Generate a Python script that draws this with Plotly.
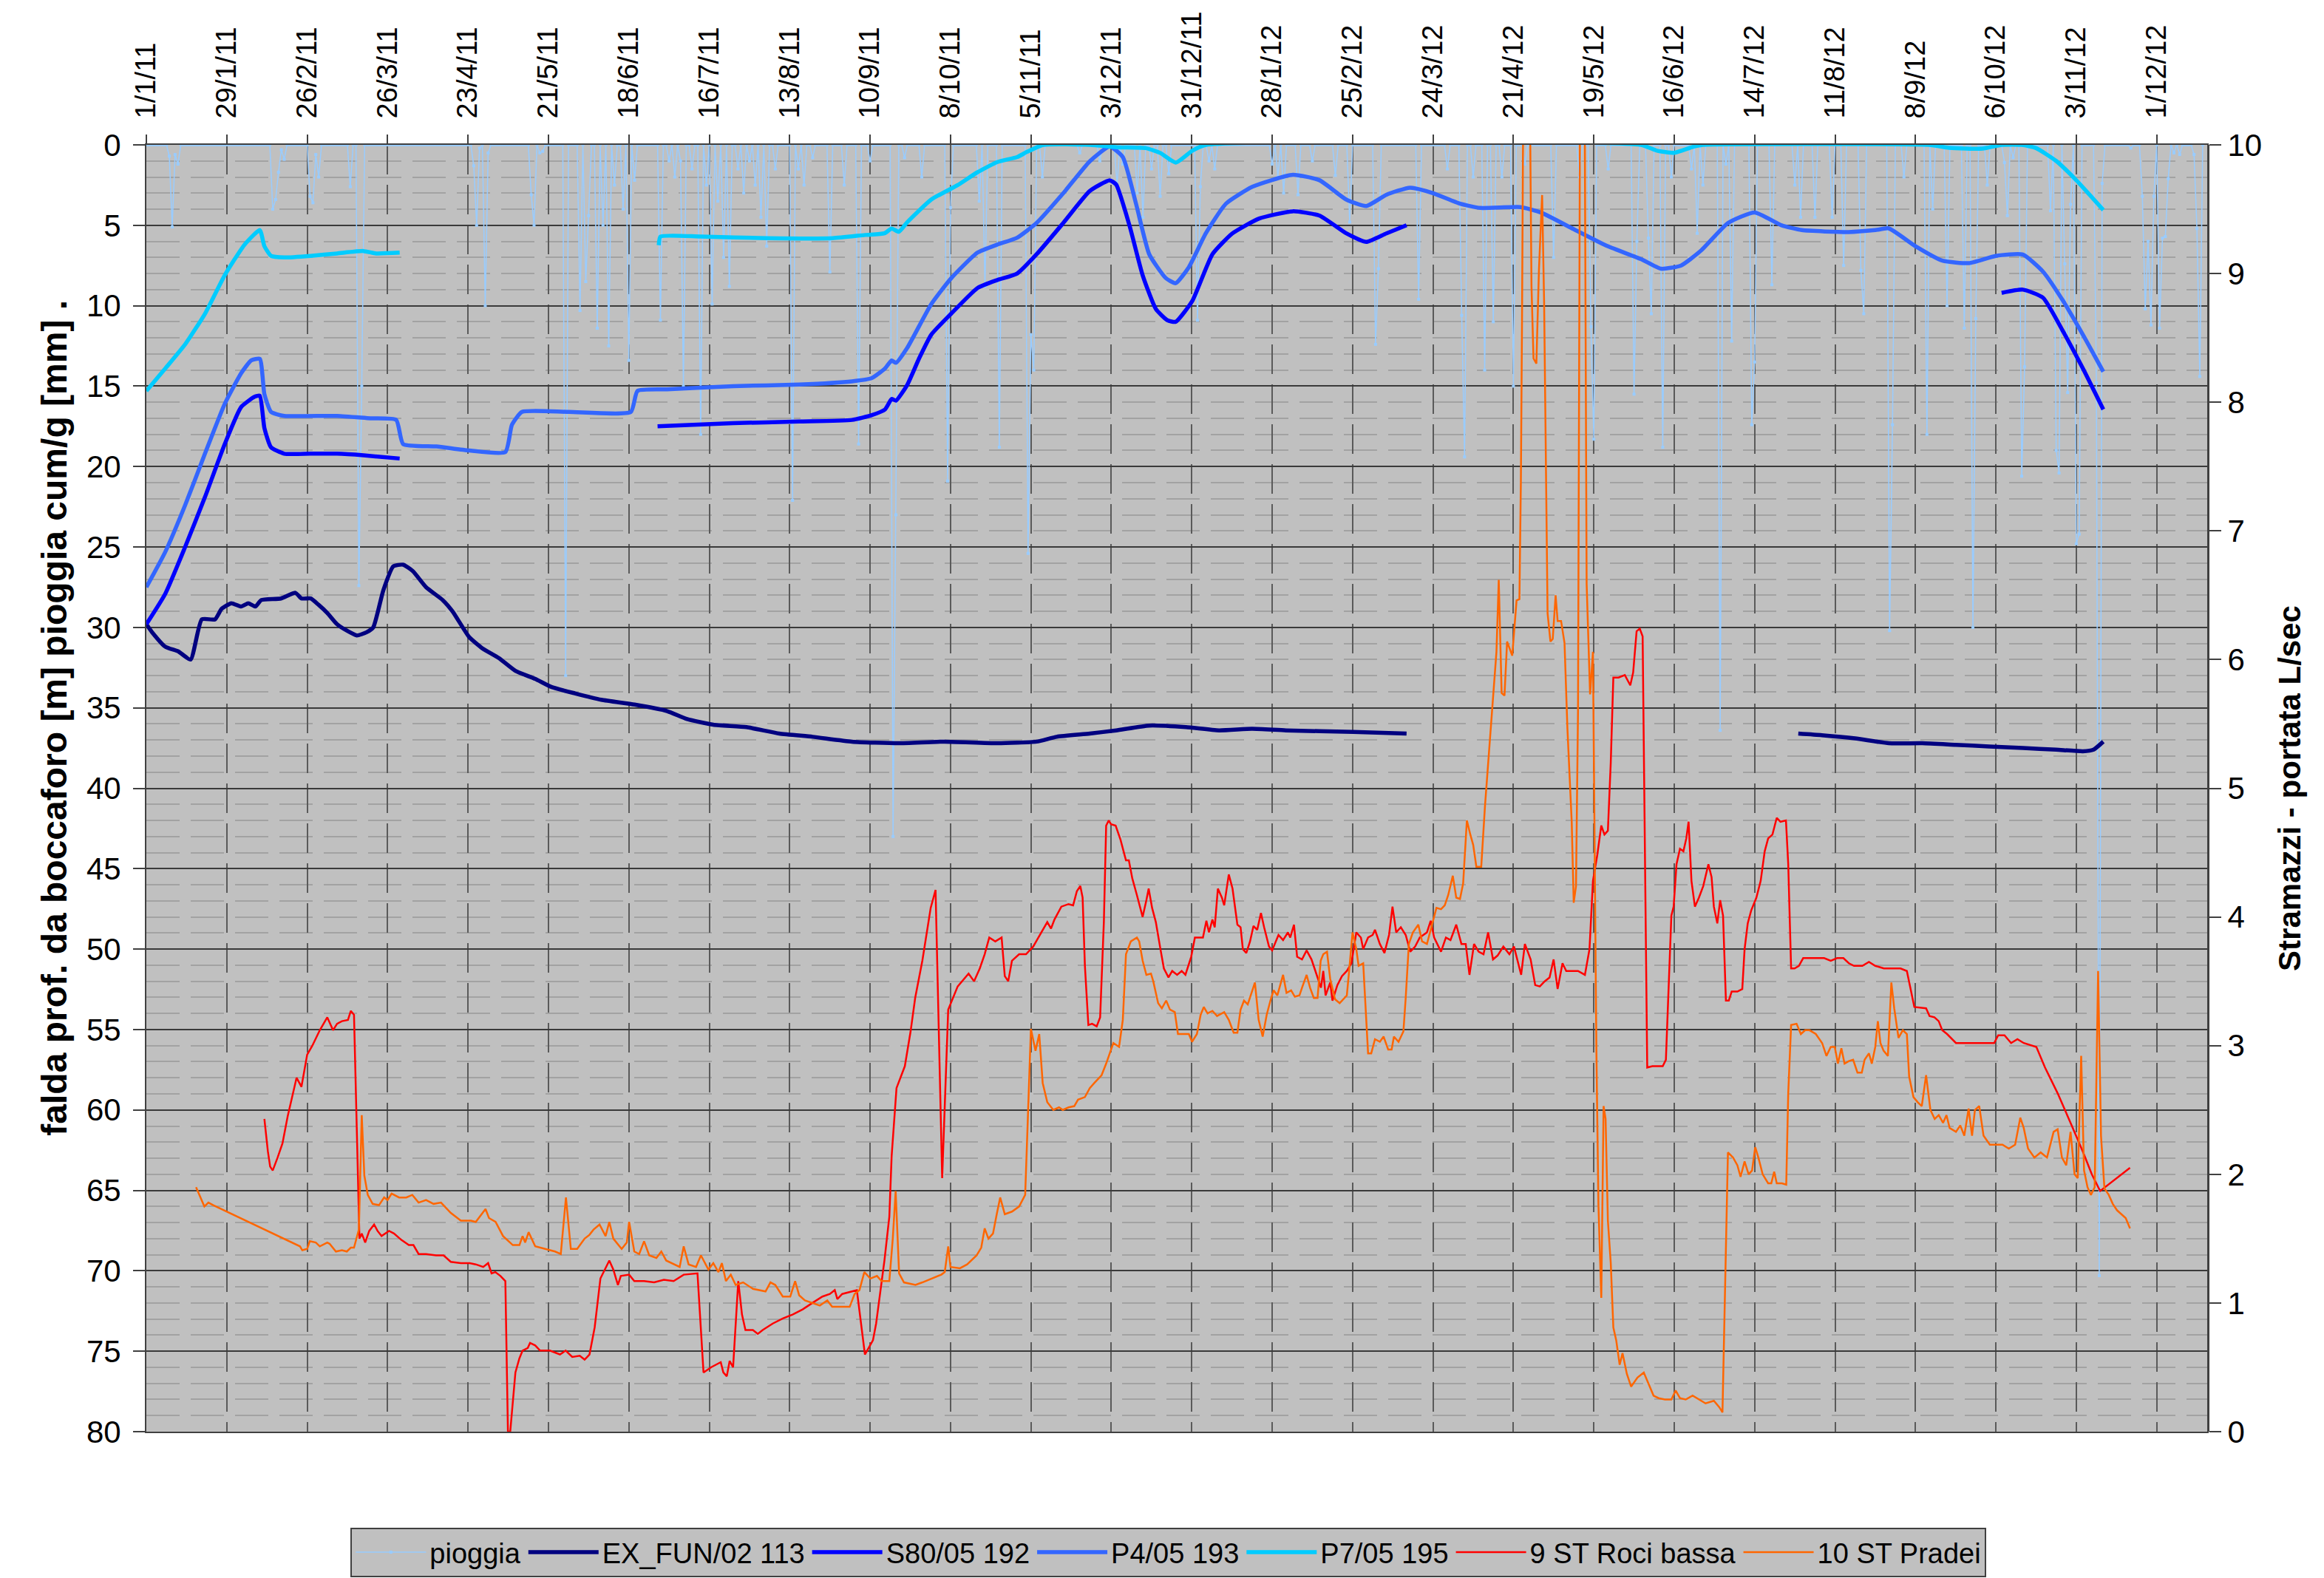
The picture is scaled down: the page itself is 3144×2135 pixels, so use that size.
import pandas as pd
import plotly.graph_objects as go

BASE = pd.Timestamp("2011-01-01")

# ---------------- data (day offset from 1/1/11, value) ----------------
# rain events (mm/day) ; days not listed = 0
pioggia_events = [
    (8, 0.7), (9, 5.1), (10, 0.6), (11, 1.2),
    (44, 4.0), (45, 3.4), (46, 1.7), (47, 0.3), (48, 0.9),
    (57, 3.2), (58, 3.6), (59, 0.6), (60, 2.0),
    (71, 2.6), (74, 27.4), (75, 15.0),
    (114, 1.3), (115, 5.0), (116, 0.2), (118, 10.0), (119, 0.5),
    (134, 3.1), (135, 5.0), (137, 0.5), (138, 0.4),
    (146, 33.0), (151, 10.3), (153, 8.5), (154, 4.4), (157, 11.4), (159, 5.0),
    (161, 12.5), (163, 2.5), (166, 4.0), (168, 13.4), (170, 2.2),
    (179, 10.9), (182, 1.0), (184, 2.0), (186, 1.0), (187, 15.0), (190, 1.5),
    (193, 18.0), (195, 2.5), (197, 9.9), (199, 3.5), (201, 7.0), (203, 8.8),
    (206, 1.5), (208, 3.0), (210, 1.0), (212, 2.5), (214, 4.5), (216, 6.3), (219, 1.5),
    (225, 22.1), (227, 1.5), (229, 2.5), (232, 0.8), (238, 7.9), (243, 2.5),
    (248, 18.6), (252, 1.0), (260, 43.0), (261, 23.0), (264, 0.8),
    (270, 2.0), (279, 20.9), (280, 3.9), (290, 3.5), (292, 8.8), (297, 18.8),
    (307, 25.4), (308, 11.8), (309, 14.0), (312, 2.0),
    (325, 0.5), (332, 1.0), (338, 2.5), (340, 1.2), (345, 3.0), (347, 4.5),
    (350, 1.5), (353, 3.2), (356, 1.8),
    (366, 10.9), (367, 2.6), (370, 1.0), (372, 1.5), (392, 1.2), (394, 2.0),
    (396, 3.0), (401, 3.1), (406, 1.0), (414, 1.9), (419, 4.8), (428, 12.4),
    (429, 7.7), (443, 9.6), (453, 1.5), (458, 10.6), (459, 19.4), (462, 2.0),
    (466, 14.0), (469, 11.0), (472, 2.0), (476, 15.0), (480, 1.2), (490, 7.0),
    (499, 2.0), (503, 11.3), (504, 18.3), (509, 1.5), (518, 15.5), (519, 6.0),
    (523, 5.8), (524, 10.5), (528, 18.8), (531, 2.0), (538, 1.5), (540, 5.5),
    (542, 2.5), (548, 36.4), (550, 1.2), (552, 12.2), (559, 17.4), (560, 13.5),
    (566, 8.7), (574, 2.5), (576, 4.5), (581, 4.5), (587, 4.5), (591, 7.5),
    (597, 7.8), (598, 10.5), (607, 30.2), (608, 17.4), (612, 2.0), (620, 18.0),
    (622, 4.0), (627, 10.0), (633, 11.4), (636, 30.0), (637, 10.8), (641, 2.5),
    (647, 1.1), (648, 4.4), (650, 0.8), (653, 20.6), (654, 13.8), (663, 4.1),
    (665, 19.0), (666, 20.4), (668, 7.4), (669, 15.4), (670, 3.7), (672, 24.8),
    (673, 24.2), (679, 14.8), (680, 70.3), (681, 2.4),
    (691, 0.2), (695, 3.2), (696, 10.2), (697, 6.0), (698, 11.2), (699, 3.2),
    (701, 11.4), (702, 5.8), (703, 5.7), (704, 2.1), (706, 0.5), (708, 0.6),
    (713, 0.6), (714, 5.2), (715, 14.4),
]
pioggia_last_day = 716

ex_fun_seg1 = [
    (0, 29.8), (2, 30.3), (6.6, 31.2), (11.2, 31.5), (15.4, 32.0), (19.3, 29.5),
    (23.9, 29.5), (26.2, 28.85), (29.6, 28.5), (33, 28.7), (35.5, 28.5), (38, 28.7),
    (40, 28.3), (46.9, 28.2), (51.9, 27.85), (54, 28.2), (57.2, 28.2), (60, 28.6),
    (63, 29.1), (66.4, 29.8), (69.8, 30.2), (73.3, 30.5), (76.7, 30.3), (79, 30.0),
    (82.5, 27.7), (86, 26.2), (89.4, 26.1), (92.8, 26.5), (97.4, 27.5), (103.2, 28.3),
    (106.6, 29.0), (112.4, 30.6), (117, 31.3), (122.7, 31.9), (128.5, 32.7),
    (135.4, 33.2), (141, 33.7), (149.2, 34.1), (158.4, 34.5), (170, 34.8),
    (181.3, 35.2), (188.3, 35.7), (197.4, 36.05), (209, 36.2), (220.4, 36.6),
    (232, 36.8), (245.7, 37.1), (261.8, 37.2), (277.9, 37.1), (296.3, 37.2),
    (310, 37.1), (317, 36.8), (328.5, 36.6), (337.7, 36.4), (349.2, 36.1),
    (362, 36.2), (373.5, 36.4), (385, 36.3), (396.8, 36.4), (420.2, 36.5), (438.8, 36.6),
]
ex_fun_seg2 = [
    (575.2, 36.6), (583.4, 36.7), (595, 36.9), (606.7, 37.2), (618.4, 37.2),
    (630, 37.3), (641.7, 37.4), (653.4, 37.5), (665, 37.6), (674.3, 37.7),
    (678, 37.6), (681.4, 37.1),
]

s80_seg1 = [
    (0, 29.8), (6.6, 27.9), (13.5, 25.0), (20.4, 21.9), (27.3, 18.6), (33, 16.3),
    (37.7, 15.66), (39.5, 15.6), (41.1, 17.6), (43.4, 18.8), (48, 19.2), (57, 19.2),
    (66.4, 19.2), (75.6, 19.3), (88.2, 19.5),
]
s80_seg2 = [
    (178, 17.5), (204.3, 17.3), (227.3, 17.2), (245.7, 17.1), (252.6, 16.8),
    (257.2, 16.45), (259.5, 15.8), (261, 15.9), (265, 14.9), (269, 13.3),
    (273.3, 11.8), (280.2, 10.5), (289.4, 8.9), (296.3, 8.4), (303.2, 8.0),
    (310, 6.8), (319.3, 4.85), (328.5, 2.87), (335.4, 2.2), (337.7, 2.47),
    (342.3, 5.0), (346.9, 8.1), (351.5, 10.2), (355.5, 10.9), (358.4, 11.0),
    (364.2, 9.7), (371.2, 6.8), (378.2, 5.5), (387.5, 4.58), (399.2, 4.13),
    (408.5, 4.4), (417.8, 5.5), (424.8, 6.03), (431.8, 5.5), (438.8, 5.0),
]
s80_seg3 = [
    (646, 9.2), (653.4, 9.0), (660.4, 9.5), (667.4, 11.6), (674.3, 13.9), (681.4, 16.45),
]

p4_series = [
    (0, 27.5), (6.6, 25.3), (13.5, 22.4), (20.4, 19.2), (27.3, 16.1), (33, 14.2),
    (36.5, 13.4), (39.5, 13.3), (41.1, 15.5), (43.4, 16.6), (48, 16.85), (66.4, 16.85),
    (78, 17.0), (87, 17.1), (89.4, 18.6), (101, 18.75), (112.4, 19.0), (125, 19.1),
    (127.3, 17.4), (130.8, 16.6), (147, 16.6), (168.7, 16.6), (171, 15.3),
    (181.3, 15.2), (204.3, 15.0), (227.3, 14.9), (245.7, 14.7), (252.6, 14.5),
    (257.2, 13.9), (259.5, 13.4), (261, 13.55), (265, 12.6), (273.3, 9.9),
    (280.2, 8.3), (289.4, 6.7), (296.3, 6.2), (303.2, 5.77), (310, 4.85),
    (319.3, 3.0), (328.5, 1.02), (335.4, 0.1), (340, 0.76), (344.6, 3.66),
    (349.2, 6.8), (354.9, 8.27), (358.4, 8.6), (363, 7.6), (368.9, 5.5),
    (375.9, 3.66), (385.2, 2.6), (399.2, 1.86), (408.5, 2.2), (417.8, 3.4),
    (424.8, 3.8), (431.8, 3.1), (440, 2.66), (448, 3.0), (457.5, 3.66),
    (464.5, 3.92), (478.5, 3.87), (485.5, 4.2), (497, 5.24), (508.8, 6.3),
    (520.4, 7.1), (527.4, 7.7), (534.4, 7.5), (541.4, 6.56), (550.8, 4.85),
    (560, 4.2), (569.4, 5.0), (576.4, 5.3), (592.7, 5.42), (602, 5.3),
    (606.7, 5.19), (616, 6.3), (625.4, 7.2), (634.7, 7.35), (644, 6.9),
    (653.4, 6.82), (660.4, 7.88), (667.4, 9.7), (674.3, 11.8), (681.4, 14.1),
]

p7_seg1 = [
    (0, 15.3), (6.6, 13.9), (13.5, 12.4), (20.4, 10.5), (27.3, 8.1), (34.2, 6.2),
    (39.5, 5.3), (41.1, 6.3), (43.4, 6.9), (48, 7.0), (57.2, 6.9), (66.4, 6.75),
    (75.6, 6.6), (80, 6.75), (88.2, 6.7),
]
p7_seg2 = [
    (178.4, 6.24), (179, 5.7), (193, 5.7), (216, 5.8), (239, 5.8), (250.3, 5.6),
    (257, 5.5), (259.5, 5.2), (262, 5.4), (265, 4.8), (273.3, 3.4), (282.5, 2.5),
    (289.4, 1.7), (296.3, 1.07), (303.2, 0.76), (306.6, 0.44), (312.4, 0.0),
    (328.5, 0.0), (338, 0.15), (348, 0.2), (353, 0.5), (358.4, 1.1), (364.2, 0.36),
    (369, 0.0), (520.4, 0.0), (526, 0.36), (532, 0.49), (539, 0.1), (542, 0.0),
    (620.7, 0.0), (627.7, 0.18), (639.4, 0.23), (646, 0.0), (653, 0.0), (658, 0.2),
    (665, 1.0), (672, 2.2), (681.4, 4.05),
]

roci_bassa = [
    (41.1, 2.43), (42.3, 2.18), (43.1, 2.06), (44, 2.03), (45.7, 2.13), (47.4, 2.24),
    (49.2, 2.45), (50.9, 2.62), (52.3, 2.75), (54, 2.68), (56, 2.93), (57.8, 3.0),
    (60.4, 3.12), (63, 3.22), (65, 3.12), (66.4, 3.17), (68.1, 3.19), (70.2, 3.2),
    (71.2, 3.27), (72.3, 3.24), (74.2, 1.5), (75, 1.54), (76.2, 1.47), (77.6, 1.56),
    (79.3, 1.61), (80.5, 1.56), (81.9, 1.52), (84.5, 1.56), (86.2, 1.54), (88.8, 1.49),
    (91.4, 1.45), (93, 1.45), (94.8, 1.38), (97.4, 1.38), (100.9, 1.37), (103.5, 1.37),
    (106, 1.32), (109.5, 1.31), (112.6, 1.31), (114.7, 1.3), (117.3, 1.28), (119, 1.31),
    (120.2, 1.23), (121.5, 1.24), (123.3, 1.21), (125, 1.17), (125.9, 0.0), (126.7, 0.0),
    (128.5, 0.46), (129.9, 0.57), (131, 0.63), (132.8, 0.65), (133.6, 0.69), (135.4, 0.67),
    (137.1, 0.63), (140.5, 0.63), (144, 0.6), (146, 0.63), (148.3, 0.58), (150.9, 0.59),
    (152.6, 0.56), (154.3, 0.6), (156.1, 0.81), (158.1, 1.19), (159.5, 1.25), (161.2, 1.33),
    (162.6, 1.26), (164.2, 1.14), (165.2, 1.21), (168.1, 1.22), (169.9, 1.17), (173.3, 1.17),
    (176.8, 1.16), (180.2, 1.18), (183.6, 1.17), (187.1, 1.22), (191.9, 1.23), (194, 0.46),
    (196.6, 0.5), (198.3, 0.52), (200, 0.54), (200.9, 0.46), (202.1, 0.43), (203.1, 0.55),
    (204.3, 0.5), (206.1, 1.17), (207.4, 0.91), (208.6, 0.79), (211.2, 0.79), (212.9, 0.76),
    (214.6, 0.79), (218.1, 0.84), (221.6, 0.88), (225, 0.91), (228.5, 0.95), (231.9, 1.0),
    (235.4, 1.05), (238, 1.07), (239.7, 1.1), (240.6, 1.03), (242.3, 1.07), (245.7, 1.09),
    (247.4, 1.1), (250.2, 0.6), (253, 0.71), (254.1, 0.84), (255.4, 1.07), (257, 1.33),
    (258.7, 1.67), (259.5, 2.14), (261.2, 2.67), (262.8, 2.77), (264.1, 2.84), (266.1, 3.11),
    (267.7, 3.37), (270.2, 3.66), (271.8, 3.88), (273.1, 4.07), (274.8, 4.21), (277.1, 1.97),
    (279.2, 3.28), (282.5, 3.46), (286.3, 3.56), (288.2, 3.5), (290.2, 3.6), (291.9, 3.71),
    (293.5, 3.84), (295.6, 3.81), (297.8, 3.84), (298.9, 3.54), (300.1, 3.5), (301.4, 3.66),
    (303.9, 3.71), (306.3, 3.71), (308.8, 3.77), (311.2, 3.86), (313.7, 3.96), (315, 3.91),
    (316.2, 3.98), (318.6, 4.08), (321.1, 4.1), (322.7, 4.09), (324, 4.2), (325.2, 4.24),
    (326, 4.15), (326.8, 3.62), (328, 3.16), (329.3, 3.17), (330.9, 3.15), (332.1, 3.22),
    (333.4, 3.96), (334.2, 4.71), (335.1, 4.75), (335.9, 4.72), (337.5, 4.71), (339.2, 4.6),
    (341.1, 4.44), (342.1, 4.44), (343.3, 4.3), (344.9, 4.17), (346.9, 4.0), (348.2, 4.13),
    (349, 4.22), (350.2, 4.07), (351.5, 3.96), (353.1, 3.75), (354.3, 3.6), (355.9, 3.53),
    (357.2, 3.58), (358.9, 3.55), (360.5, 3.58), (361.8, 3.55), (363.8, 3.69), (365.1, 3.84),
    (367.9, 3.84), (369.1, 3.97), (370, 3.88), (371.2, 3.98), (372, 3.92), (373.1, 4.22),
    (374.5, 4.15), (375.3, 4.09), (376.9, 4.33), (378.2, 4.22), (379.9, 3.94), (381, 3.92),
    (381.8, 3.75), (383, 3.72), (384.3, 3.81), (385.5, 3.93), (386.8, 3.9), (388.1, 4.03),
    (389.2, 3.92), (390.9, 3.77), (392, 3.74), (394.2, 3.86), (395.8, 3.82), (397.5, 3.88),
    (398.3, 3.84), (399.6, 3.94), (400.7, 3.69), (402.4, 3.67), (404, 3.74), (405.7, 3.67),
    (407.3, 3.56), (409, 3.45), (409.8, 3.58), (410.6, 3.39), (412.2, 3.49), (413, 3.35),
    (414.7, 3.47), (416.3, 3.54), (418, 3.58), (419.6, 3.64), (421.3, 3.88), (422.9, 3.84),
    (423.7, 3.75), (425.4, 3.84), (427, 3.86), (427.8, 3.9), (429.5, 3.79), (431.1, 3.72),
    (432.7, 3.86), (433.9, 4.08), (435.2, 3.88), (436.8, 3.92), (438.5, 3.86), (440.1, 3.73),
    (441.8, 3.77), (443.4, 3.84), (445.9, 3.88), (447.2, 3.97), (448.4, 3.84), (450.8, 3.73),
    (452.5, 3.84), (454.1, 3.82), (456.1, 3.94), (457.9, 3.79), (459.4, 3.79), (460.7, 3.55),
    (462.3, 3.79), (463.9, 3.73), (465.6, 3.71), (467.2, 3.88), (468.9, 3.67), (470.5, 3.7),
    (472.5, 3.77), (474.6, 3.71), (476.2, 3.77), (478.7, 3.55), (480, 3.79), (482, 3.67),
    (483.6, 3.47), (485.2, 3.46), (486.9, 3.5), (488.6, 3.53), (490, 3.67), (491.4, 3.44),
    (493.1, 3.64), (494.4, 3.58), (496.8, 3.58), (498.5, 3.58), (500.9, 3.55), (502.5, 3.75),
    (503.7, 4.28), (505.2, 4.48), (506.6, 4.71), (507.7, 4.64), (508.9, 4.67), (509.9, 5.2),
    (510.8, 5.86), (512.6, 5.86), (514.8, 5.88), (516.7, 5.8), (517.7, 5.9), (518.9, 6.22),
    (520, 6.24), (521, 6.18), (522.6, 2.83), (524.4, 2.84), (526.6, 2.84), (528, 2.84),
    (529.1, 2.89), (531, 4.01), (531.8, 4.08), (532.8, 4.41), (534, 4.53), (535.2, 4.51),
    (536.2, 4.61), (537, 4.74), (538, 4.28), (539.2, 4.08), (540.6, 4.15), (542.1, 4.24),
    (543.9, 4.41), (545, 4.31), (545.8, 4.08), (547, 3.95), (548, 4.13), (549, 4.01),
    (550, 3.35), (551, 3.35), (552, 3.42), (554, 3.42), (555.7, 3.44), (556.5, 3.75),
    (557.6, 3.95), (558.8, 4.05), (560.6, 4.15), (562.1, 4.28), (563.5, 4.51), (564.7, 4.61),
    (566.2, 4.64), (567.7, 4.77), (569, 4.74), (570.9, 4.75), (571.7, 4.41), (572.7, 3.6),
    (573.9, 3.6), (575.4, 3.62), (576.9, 3.68), (581.3, 3.68), (584.2, 3.68), (586.5, 3.66),
    (588.7, 3.68), (590.9, 3.68), (592.8, 3.64), (594.6, 3.62), (597.5, 3.62), (599.8, 3.65),
    (602, 3.62), (605, 3.6), (607.9, 3.6), (610.8, 3.6), (613, 3.58), (614.5, 3.42),
    (615.6, 3.3), (619.7, 3.29), (620.9, 3.23), (622.6, 3.22), (624.1, 3.19), (625.3, 3.12),
    (627, 3.09), (630.1, 3.02), (632.3, 3.02), (636, 3.02), (640.4, 3.02), (643.4, 3.02),
    (644.8, 3.08), (647, 3.08), (649.3, 3.02), (651.5, 3.05), (653.7, 3.02), (658.1, 2.99),
    (661.1, 2.83), (665.5, 2.63), (670, 2.4), (674.4, 2.17), (677.4, 2.0), (680.3, 1.87),
    (690.7, 2.05),
]

pradei = [
    (17.3, 1.9), (18.1, 1.86), (20.2, 1.75), (21.6, 1.78), (23.3, 1.76), (53.5, 1.44),
    (54.3, 1.41), (56, 1.42), (56.9, 1.48), (59, 1.47), (60.4, 1.44), (63, 1.47),
    (63.8, 1.46), (66, 1.4), (68.1, 1.41), (69.8, 1.4), (71.2, 1.43), (72.3, 1.43),
    (73.3, 1.52), (74, 1.57), (75, 2.46), (75.9, 1.99), (77.1, 1.84), (78.8, 1.77),
    (81, 1.76), (82.8, 1.82), (84, 1.8), (85.4, 1.85), (88, 1.82), (90.5, 1.82),
    (92.6, 1.84), (94.8, 1.78), (97.4, 1.8), (100, 1.77), (102.6, 1.78), (106, 1.7),
    (109.5, 1.64), (113, 1.64), (114.7, 1.63), (116.4, 1.68), (118.1, 1.73), (119.3, 1.66),
    (121.6, 1.63), (124.2, 1.52), (127.6, 1.45), (129.9, 1.45), (131, 1.52), (131.9, 1.47),
    (133.1, 1.55), (135.4, 1.44), (138.8, 1.42), (142.3, 1.4), (144.3, 1.38), (146.1, 1.82),
    (147.8, 1.42), (150, 1.42), (152.6, 1.5), (154.3, 1.53), (155.7, 1.57), (157.8, 1.61),
    (159.9, 1.52), (161.2, 1.63), (162.6, 1.5), (165.5, 1.42), (167.3, 1.47), (168.1, 1.63),
    (169.9, 1.4), (171.6, 1.38), (173.3, 1.48), (175.1, 1.37), (177.6, 1.35), (179.3, 1.4),
    (181, 1.33), (183.6, 1.3), (185.7, 1.28), (187.1, 1.44), (188.8, 1.3), (191.4, 1.28),
    (193.1, 1.37), (195.7, 1.26), (197.4, 1.31), (199.2, 1.24), (200.4, 1.31), (201.8, 1.17),
    (203.5, 1.22), (205.2, 1.14), (207.8, 1.16), (211.2, 1.11), (215.6, 1.09), (217.3, 1.16),
    (219, 1.14), (221.6, 1.05), (224.2, 1.05), (225.9, 1.17), (227.3, 1.06), (229.3, 1.02),
    (232, 1.0), (234.5, 0.98), (237.1, 1.02), (238.8, 0.97), (242.3, 0.97), (244.9, 0.97),
    (246.6, 1.07), (248.3, 1.1), (250, 1.24), (252.1, 1.19), (254.4, 1.21), (256, 1.17),
    (258.7, 1.17), (259.9, 1.5), (260.9, 1.87), (262.1, 1.23), (263.8, 1.16), (267.8, 1.14),
    (270.2, 1.16), (273.5, 1.19), (276.8, 1.22), (278, 1.24), (279.2, 1.44), (280, 1.28),
    (283.3, 1.27), (285.8, 1.3), (289.1, 1.37), (290.7, 1.43), (291.9, 1.58), (293.2, 1.5),
    (294.8, 1.54), (296.1, 1.69), (297.3, 1.82), (298.9, 1.69), (301.4, 1.71), (303.9, 1.75),
    (306, 1.84), (306.8, 2.35), (308, 3.13), (309.6, 2.96), (310.9, 3.09), (312.1, 2.71),
    (313.7, 2.56), (315.8, 2.5), (317.8, 2.52), (319.1, 2.5), (321.1, 2.52), (323.1, 2.53),
    (324.4, 2.58), (326.8, 2.6), (328.5, 2.67), (330.1, 2.71), (332.6, 2.77), (334.2, 2.86),
    (335.4, 2.94), (336.7, 3.02), (338.7, 2.99), (340, 3.2), (341.1, 3.71), (342.8, 3.81),
    (344.9, 3.84), (345.7, 3.81), (346.9, 3.66), (348.2, 3.55), (349.8, 3.56), (350.6, 3.5),
    (352.3, 3.33), (353.6, 3.29), (355.1, 3.35), (356.4, 3.28), (358.1, 3.26), (359.2, 3.09),
    (361.3, 3.09), (363, 3.09), (364.1, 3.03), (365.8, 3.09), (367.1, 3.24), (368.2, 3.3),
    (369.5, 3.25), (371.2, 3.27), (372.8, 3.23), (373.6, 3.24), (375.3, 3.26), (376.9, 3.2),
    (378.6, 3.1), (379.9, 3.1), (381, 3.28), (382.2, 3.35), (383.5, 3.32), (386, 3.49),
    (387.3, 3.2), (388.7, 3.07), (390.1, 3.24), (391.4, 3.35), (392.5, 3.43), (393.8, 3.39),
    (395.8, 3.55), (397, 3.41), (398.6, 3.43), (399.9, 3.38), (401.5, 3.39), (402.4, 3.45),
    (404, 3.55), (405.2, 3.45), (406.5, 3.37), (407.8, 3.37), (408.9, 3.66), (409.8, 3.71),
    (411.1, 3.73), (412.2, 3.52), (413.9, 3.36), (415.5, 3.33), (418, 3.39), (418.8, 3.58),
    (420, 3.88), (421.3, 3.75), (422.1, 3.62), (423.7, 3.64), (425.4, 2.94), (426.5, 2.94),
    (427.8, 3.05), (429.5, 3.03), (430.8, 3.07), (432.4, 2.97), (433.6, 2.97), (434.4, 3.07),
    (436, 3.03), (437.7, 3.11), (438.5, 3.37), (439.6, 3.79), (441, 3.88), (442.9, 3.94),
    (444.2, 3.81), (445.9, 3.79), (447.5, 3.92), (449.2, 4.07), (450.8, 4.06), (452.1, 4.09),
    (453.3, 4.17), (454.9, 4.32), (456.1, 4.15), (457.4, 4.14), (458.5, 4.26), (459.8, 4.75),
    (461, 4.64), (462, 4.56), (463.1, 4.39), (464.8, 4.39), (466.1, 4.86), (467.2, 5.2),
    (467.8, 5.33), (469, 5.73), (470.1, 6.06), (470.9, 6.62), (471.9, 5.74), (472.9, 5.72),
    (473.8, 6.14), (475.6, 6.03), (476.3, 6.22), (477.1, 6.46), (478.1, 6.47), (478.6, 7.38),
    (479, 8.63), (479.6, 11.0), (480.5, 11.0), (481.5, 11.0), (482.3, 8.9), (483, 8.34),
    (484, 8.3), (484.9, 9.03), (486, 9.61), (486.7, 8.77), (487.9, 6.36), (488.9, 6.14),
    (489.7, 6.16), (490.7, 6.5), (491.4, 6.3), (492.6, 6.3), (493.8, 6.13), (494.8, 5.47),
    (496.3, 4.74), (497, 4.11), (497.8, 4.24), (498.5, 5.6), (499.3, 11.0), (500.0, 11.0),
    (500.7, 11.0), (501.5, 6.59), (502.7, 5.73), (503.7, 6.06), (504.4, 4.41), (504.9, 2.96),
    (505.6, 1.77), (506.6, 1.04), (507.4, 2.53), (508.1, 2.43), (508.9, 1.64), (509.9, 1.31),
    (510.8, 0.81), (511.8, 0.71), (513, 0.52), (514, 0.61), (515.5, 0.45), (517, 0.35),
    (519.2, 0.42), (521.4, 0.46), (522.9, 0.38), (524.8, 0.28), (526.6, 0.26), (528.8, 0.25),
    (531, 0.25), (532.5, 0.32), (534, 0.26), (536, 0.25), (538.4, 0.28), (540.6, 0.25),
    (542.9, 0.22), (545.8, 0.24), (547.7, 0.19), (548.8, 0.15), (550.7, 2.17), (552.5, 2.13),
    (554, 2.07), (555.1, 1.98), (556.5, 2.1), (557.9, 2.0), (559.1, 2.03), (560.2, 2.21),
    (561.3, 2.13), (562.8, 2.0), (564.7, 1.93), (565.8, 1.93), (566.8, 2.02), (567.7, 1.93),
    (569.5, 1.93), (571, 1.92), (571.7, 2.63), (572.7, 3.16), (574.6, 3.17), (576.1, 3.09),
    (577.6, 3.12), (579.1, 3.12), (581.3, 3.09), (583.5, 3.02), (585, 2.92), (586.5, 2.99),
    (587.9, 2.99), (589, 2.86), (590.2, 2.98), (591.3, 2.86), (592.8, 2.88), (594.3, 2.89),
    (595.8, 2.79), (597.3, 2.79), (598.3, 2.89), (599.8, 2.94), (600.8, 2.86), (602, 2.99),
    (602.9, 3.19), (603.8, 3.02), (604.9, 2.96), (606.4, 2.92), (607.6, 3.49), (608.6, 3.29),
    (610.1, 3.06), (611.6, 3.12), (613, 3.09), (613.8, 2.76), (615.3, 2.6), (616.8, 2.56),
    (618.2, 2.53), (619.7, 2.77), (621.2, 2.5), (622.7, 2.43), (624.1, 2.46), (625.6, 2.4),
    (626.8, 2.46), (627.9, 2.36), (630.1, 2.33), (631.6, 2.38), (633, 2.3), (634.5, 2.51),
    (635.7, 2.3), (636.7, 2.5), (638.2, 2.53), (639.7, 2.3), (641.9, 2.23), (644.1, 2.23),
    (646.3, 2.23), (648.5, 2.2), (650.7, 2.23), (652.5, 2.44), (653.7, 2.36), (655.2, 2.2),
    (657.4, 2.13), (659.6, 2.17), (661.8, 2.13), (664.1, 2.33), (665.5, 2.35), (667, 2.13),
    (668.5, 2.07), (670, 2.33), (671.4, 2.0), (672.5, 1.97), (673.7, 2.92), (674.7, 2.03),
    (675.9, 1.9), (677.1, 1.84), (678.4, 1.9), (679.6, 3.58), (680.6, 2.3), (681.8, 1.89),
    (683.3, 1.84), (684.7, 1.77), (686.2, 1.72), (689.2, 1.66), (690.7, 1.58),
]

x_ticks_start = "2011-01-01"
x_tick_step_days = 28
x_range = ["2011-01-01", "2012-12-18 14:00"]
y_left_range = [80, 0]
y_right_range = [0, 10]
left_title = "falda prof. da boccaforo [m] pioggia cum/g [mm] ."
right_title = "Stramazzi - portata L/sec"

# ---------------- helpers ----------------
def to_xy(*segments):
    xs, ys = [], []
    for i, seg in enumerate(segments):
        if i > 0:
            xs.append(None)
            ys.append(None)
        for d, v in seg:
            xs.append(BASE + pd.Timedelta(days=d))
            ys.append(v)
    return xs, ys

rain_map = {d: v for d, v in pioggia_events}
rain_days = list(range(0, pioggia_last_day + 1))
rain_x = [BASE + pd.Timedelta(days=d) for d in rain_days]
rain_y = [rain_map.get(d, 0.0) for d in rain_days]

FONT = "Liberation Sans, Arial, sans-serif"

fig = go.Figure()
fig.add_trace(go.Scatter(
    x=rain_x, y=rain_y, name="pioggia", mode="lines+markers",
    line=dict(color="#99CCFF", width=1.5),
    marker=dict(color="#99CCFF", size=4, symbol="square"),
    yaxis="y"))

for name, segs, color, w in [
    ("EX_FUN/02 113", (ex_fun_seg1, ex_fun_seg2), "#000080", 5.5),
    ("S80/05 192", (s80_seg1, s80_seg2, s80_seg3), "#0000FF", 5.5),
    ("P4/05 193", (p4_series,), "#3366FF", 5.5),
    ("P7/05 195", (p7_seg1, p7_seg2), "#00CCFF", 5.5),
]:
    x, y = to_xy(*segs)
    fig.add_trace(go.Scatter(x=x, y=y, name=name, mode="lines",
                             line=dict(color=color, width=w, shape="spline", smoothing=0.5),
                             connectgaps=False, yaxis="y"))

for name, seg, color in [
    ("9 ST Roci bassa", roci_bassa, "#FF0000"),
    ("10 ST Pradei", pradei, "#FF6600"),
]:
    x, y = to_xy(seg)
    fig.add_trace(go.Scatter(x=x, y=y, name=name, mode="lines",
                             line=dict(color=color, width=2.5),
                             yaxis="y2"))

fig.update_layout(
    width=3144, height=2135,
    margin=dict(l=190, r=166, t=188, b=206, autoexpand=False),
    paper_bgcolor="white", plot_bgcolor="#C0C0C0",
    font=dict(family=FONT, size=42, color="black"),
    showlegend=True,
    legend=dict(orientation="h", x=0.496, xanchor="center", y=-0.0745, yanchor="top",
                bgcolor="#C0C0C0", bordercolor="#404040", borderwidth=2,
                font=dict(family=FONT, size=38, color="black"),
                itemwidth=95, tracegroupgap=0, valign="middle"),
    xaxis=dict(
        type="date", side="top", range=x_range,
        tick0=x_ticks_start, dtick=x_tick_step_days * 86400000,
        tickformat="%-d/%-m/%y", tickangle=-90,
        tickfont=dict(family=FONT, size=38, color="black"),
        ticks="outside", ticklen=12, tickcolor="#404040", tickwidth=2,
        ticklabelstandoff=14,
        showgrid=True, gridcolor="#5A5A5A", gridwidth=1.5, griddash="40px,14px",
        showline=True, linecolor="#404040", linewidth=2, mirror=True,
        zeroline=False,
    ),
    yaxis=dict(
        range=y_left_range, dtick=5, tick0=0,
        ticks="outside", ticklen=16, tickcolor="#404040", tickwidth=2,
        ticklabelstandoff=8,
        tickfont=dict(family=FONT, size=42, color="black"),
        showgrid=True, gridcolor="#3A3A3A", gridwidth=1.5,
        minor=dict(dtick=1, showgrid=True, gridcolor="#A2A2A2", gridwidth=1.5,
                   griddash="45px,15px", ticks=""),
        showline=True, linecolor="#404040", linewidth=2, mirror=True,
        zeroline=False,
    ),
    yaxis2=dict(
        range=y_right_range, dtick=1, tick0=0, overlaying="y", side="right",
        ticks="outside", ticklen=16, tickcolor="#404040", tickwidth=2,
        tickfont=dict(family=FONT, size=42, color="black"),
        showgrid=False, zeroline=False,
        showline=True, linecolor="#404040", linewidth=3,
        title=dict(text=right_title,
                   font=dict(family=FONT, size=42, color="black", weight="bold"),
                   standoff=24),
    ),
    annotations=[dict(
        text=left_title, textangle=-90, showarrow=False,
        xref="paper", yref="paper", x=-0.0445, y=0.555,
        xanchor="center", yanchor="middle",
        font=dict(family=FONT, size=48, color="black", weight="bold"),
    )],
)

fig.write_html("out.html")
